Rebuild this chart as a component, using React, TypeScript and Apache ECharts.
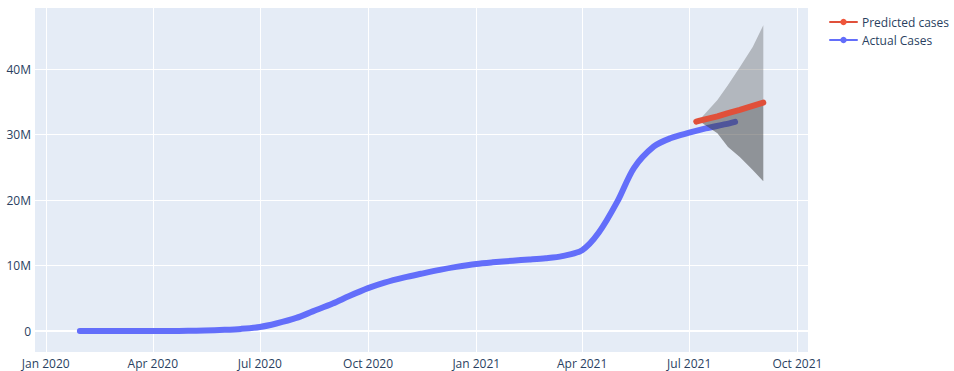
import React, { useEffect, useRef } from "react";
import * as echarts from "echarts";

// ---- Data (values in cases) ----
const actualDates = [
  "2020-01-30", "2020-03-01", "2020-04-01", "2020-04-15", "2020-05-01", "2020-05-15",
  "2020-06-01", "2020-06-15", "2020-07-01", "2020-07-15", "2020-08-01", "2020-08-15",
  "2020-09-01", "2020-09-15", "2020-10-01", "2020-10-15", "2020-11-01", "2020-11-15",
  "2020-12-01", "2020-12-15", "2021-01-01", "2021-01-15", "2021-02-01", "2021-02-15",
  "2021-03-01", "2021-03-15", "2021-04-01", "2021-04-15", "2021-05-01", "2021-05-15",
  "2021-06-01", "2021-06-15", "2021-07-01", "2021-07-15", "2021-08-01", "2021-08-09",
];
const actualCases = [
  1, 3, 1700, 12000, 35000, 82000,
  190000, 330000, 620000, 1150000, 2000000, 3000000,
  4200000, 5350000, 6550000, 7400000, 8200000, 8750000,
  9350000, 9800000, 10250000, 10500000, 10750000, 10920000,
  11120000, 11450000, 12350000, 15000000, 19800000, 24900000,
  28200000, 29450000, 30300000, 30950000, 31600000, 31950000,
];

const predictedDates = ["2021-07-07", "2021-07-10", "2021-07-25", "2021-08-03", "2021-08-13", "2021-08-24", "2021-09-02"];
const predictedCases = [32000000, 32150000, 32800000, 33300000, 33800000, 34400000, 34900000];

const bandDates = ["2021-07-10", "2021-07-25", "2021-08-03", "2021-08-13", "2021-08-24", "2021-09-02"];
const bandUpper = [32300000, 35300000, 37600000, 40300000, 43400000, 46700000];
const bandLower = [32000000, 30200000, 28100000, 26600000, 24600000, 22900000];

const monthNames = ["Jan", "Feb", "Mar", "Apr", "May", "Jun", "Jul", "Aug", "Sep", "Oct", "Nov", "Dec"];

export default function App() {
  const ref = useRef<HTMLDivElement>(null);

  useEffect(() => {
    if (!ref.current) return;
    const chart = echarts.init(ref.current, undefined, { renderer: "svg" });

    const predictedAtBand = predictedCases.slice(1);
    const darkPart = bandLower.map((lo, i) => predictedAtBand[i] - lo);
    const lightPart = bandUpper.map((up, i) => up - predictedAtBand[i]);

    const font = "'Open Sans', 'Noto Sans', sans-serif";

    chart.setOption({
      animation: false,
      backgroundColor: "#ffffff",
      textStyle: { fontFamily: font },
      grid: {
        left: 34,
        right: 146,
        top: 7,
        bottom: 19,
        show: true,
        backgroundColor: "#E5ECF6",
        borderWidth: 0,
      },
      legend: {
        orient: "vertical",
        left: 824,
        top: 11,
        itemWidth: 27,
        itemHeight: 8,
        itemGap: 6,
        data: ["Predicted cases", "Actual Cases"],
        lineStyle: { width: 2 },
        textStyle: { fontSize: 12, color: "#2a3f5f", fontFamily: font },
      },
      xAxis: {
        type: "time",
        min: "2019-12-22",
        max: "2021-10-10",
        splitNumber: 7,
        axisLine: { show: false },
        axisTick: { show: false },
        splitLine: { show: true, lineStyle: { color: "#ffffff", width: 1 } },
        axisLabel: {
          color: "#2a3f5f",
          fontSize: 12,
          fontFamily: font,
          margin: 5,
          showMinLabel: false,
          showMaxLabel: false,
          hideOverlap: false,
          formatter: (v: number) => {
            const d = new Date(v);
            return monthNames[d.getMonth()] + " " + d.getFullYear();
          },
        },
      },
      yAxis: {
        type: "value",
        min: -3200000,
        max: 49500000,
        splitNumber: 5,
        axisLine: { show: false },
        axisTick: { show: false },
        splitLine: { show: true, lineStyle: { color: "#ffffff", width: 1 } },
        axisLabel: {
          color: "#2a3f5f",
          fontSize: 12,
          fontFamily: font,
          margin: 3,
          showMinLabel: false,
          showMaxLabel: false,
          formatter: (v: number) => (v === 0 ? "0" : v / 1000000 + "M"),
        },
      },
      series: [
        {
          name: "zero",
          type: "line",
          data: [],
          z: 1,
          silent: true,
          markLine: {
            z: 1,
            silent: true,
            symbol: "none",
            label: { show: false },
            lineStyle: { color: "#ffffff", width: 2, type: "solid" },
            data: [{ yAxis: 0 }],
          },
        },
        {
          name: "Actual Cases",
          type: "line",
          z: 2,
          data: actualDates.map((d, i) => [d, actualCases[i]]),
          smooth: 0.3,
          symbol: "circle",
          symbolSize: 6,
          showSymbol: false,
          color: "#636EFA",
          lineStyle: { color: "#636EFA", width: 6, cap: "round", join: "round" },
        },
        {
          name: "bandBase",
          type: "line",
          stack: "band",
          z: 3,
          data: bandDates.map((d, i) => [d, bandLower[i]]),
          symbol: "none",
          lineStyle: { opacity: 0, width: 0 },
          silent: true,
        },
        {
          name: "bandLow",
          type: "line",
          stack: "band",
          z: 3,
          data: bandDates.map((d, i) => [d, darkPart[i]]),
          symbol: "none",
          lineStyle: { opacity: 0, width: 0 },
          areaStyle: { color: "rgba(60,60,60,0.51)", opacity: 1 },
          silent: true,
        },
        {
          name: "bandHigh",
          type: "line",
          stack: "band",
          z: 3,
          data: bandDates.map((d, i) => [d, lightPart[i]]),
          symbol: "none",
          lineStyle: { opacity: 0, width: 0 },
          areaStyle: { color: "rgba(60,60,60,0.3)", opacity: 1 },
          silent: true,
        },
        {
          name: "Predicted cases",
          type: "line",
          z: 4,
          data: predictedDates.map((d, i) => [d, predictedCases[i]]),
          symbol: "circle",
          symbolSize: 6,
          showSymbol: false,
          color: "#EF553B",
          lineStyle: { color: "#E0503A", width: 6, cap: "round", join: "round" },
        },
      ],
    });

    return () => chart.dispose();
  }, []);

  return (
    <div
      ref={ref}
      style={{ position: "fixed", left: 0, top: 0, width: 954, height: 371 }}
    />
  );
}
